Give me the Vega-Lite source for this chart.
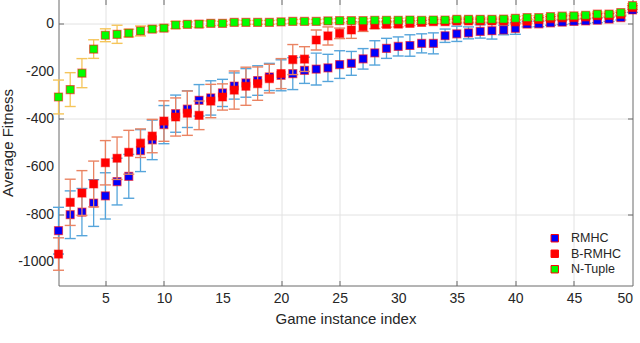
{
"$schema": "https://vega.github.io/schema/vega-lite/v6.json",
"width": 574, "height": 286,
"autosize": "none",
"padding": {"left": 58.5, "top": -0.5, "right": 7, "bottom": 57},
"background": "white",
"config": {"view": {"stroke": null}, "font": "Liberation Sans",
  "axis": {"labelColor": "#262626", "titleColor": "#262626", "domainColor": "#6b6b6b", "tickColor": "#6b6b6b", "labelFontSize": 14, "titleFontSize": 15, "titleFontWeight": "normal", "labelFont": "Liberation Sans", "titleFont": "Liberation Sans", "gridColor": "#e2e2e2"}},
"data": {"values": [
{"x":1,"s":"RMHC","m":-870,"lo":-968,"hi":-772},
{"x":2,"s":"RMHC","m":-803,"lo":-903,"hi":-703},
{"x":3,"s":"RMHC","m":-792,"lo":-891,"hi":-693},
{"x":4,"s":"RMHC","m":-754,"lo":-852,"hi":-656},
{"x":5,"s":"RMHC","m":-724,"lo":-821,"hi":-627},
{"x":6,"s":"RMHC","m":-664,"lo":-762,"hi":-566},
{"x":7,"s":"RMHC","m":-642,"lo":-734,"hi":-550},
{"x":8,"s":"RMHC","m":-534,"lo":-622,"hi":-446},
{"x":9,"s":"RMHC","m":-489,"lo":-572,"hi":-406},
{"x":10,"s":"RMHC","m":-425,"lo":-505,"hi":-345},
{"x":11,"s":"RMHC","m":-379,"lo":-457,"hi":-301},
{"x":12,"s":"RMHC","m":-360,"lo":-437,"hi":-283},
{"x":13,"s":"RMHC","m":-323,"lo":-389,"hi":-257},
{"x":14,"s":"RMHC","m":-313,"lo":-385,"hi":-241},
{"x":15,"s":"RMHC","m":-292,"lo":-349,"hi":-235},
{"x":16,"s":"RMHC","m":-263,"lo":-318,"hi":-208},
{"x":17,"s":"RMHC","m":-250,"lo":-310,"hi":-190},
{"x":18,"s":"RMHC","m":-240,"lo":-302,"hi":-178},
{"x":19,"s":"RMHC","m":-225,"lo":-282,"hi":-168},
{"x":20,"s":"RMHC","m":-218,"lo":-283,"hi":-153},
{"x":21,"s":"RMHC","m":-211,"lo":-278,"hi":-144},
{"x":22,"s":"RMHC","m":-197,"lo":-252,"hi":-142},
{"x":23,"s":"RMHC","m":-192,"lo":-259,"hi":-125},
{"x":24,"s":"RMHC","m":-187,"lo":-244,"hi":-130},
{"x":25,"s":"RMHC","m":-173,"lo":-231,"hi":-115},
{"x":26,"s":"RMHC","m":-168,"lo":-218,"hi":-118},
{"x":27,"s":"RMHC","m":-149,"lo":-192,"hi":-106},
{"x":28,"s":"RMHC","m":-124,"lo":-175,"hi":-73},
{"x":29,"s":"RMHC","m":-105,"lo":-147,"hi":-63},
{"x":30,"s":"RMHC","m":-97,"lo":-137,"hi":-57},
{"x":31,"s":"RMHC","m":-93,"lo":-138,"hi":-48},
{"x":32,"s":"RMHC","m":-84,"lo":-124,"hi":-44},
{"x":33,"s":"RMHC","m":-84,"lo":-128,"hi":-40},
{"x":34,"s":"RMHC","m":-52,"lo":-80,"hi":-24},
{"x":35,"s":"RMHC","m":-44,"lo":-76,"hi":-12},
{"x":36,"s":"RMHC","m":-40,"lo":-65,"hi":-15},
{"x":37,"s":"RMHC","m":-34,"lo":-62,"hi":-6},
{"x":38,"s":"RMHC","m":-31,"lo":-66,"hi":4},
{"x":39,"s":"RMHC","m":-28,"lo":-48,"hi":-8},
{"x":40,"s":"RMHC","m":-21,"lo":-46,"hi":4},
{"x":41,"s":"RMHC","m":-3,"lo":-15,"hi":9},
{"x":42,"s":"RMHC","m":-2,"lo":-14,"hi":10},
{"x":43,"s":"RMHC","m":2,"lo":-8,"hi":12},
{"x":44,"s":"RMHC","m":5,"lo":-5,"hi":15},
{"x":45,"s":"RMHC","m":8,"lo":-2,"hi":18},
{"x":46,"s":"RMHC","m":10,"lo":0,"hi":20},
{"x":47,"s":"RMHC","m":13,"lo":3,"hi":23},
{"x":48,"s":"RMHC","m":18,"lo":8,"hi":28},
{"x":49,"s":"RMHC","m":24,"lo":14,"hi":34},
{"x":50,"s":"RMHC","m":56,"lo":46,"hi":66},
{"x":1,"s":"B-RMHC","m":-968,"lo":-1036,"hi":-900},
{"x":2,"s":"B-RMHC","m":-751,"lo":-848,"hi":-654},
{"x":3,"s":"B-RMHC","m":-712,"lo":-806,"hi":-618},
{"x":4,"s":"B-RMHC","m":-674,"lo":-770,"hi":-578},
{"x":5,"s":"B-RMHC","m":-585,"lo":-678,"hi":-492},
{"x":6,"s":"B-RMHC","m":-566,"lo":-655,"hi":-477},
{"x":7,"s":"B-RMHC","m":-541,"lo":-633,"hi":-449},
{"x":8,"s":"B-RMHC","m":-503,"lo":-563,"hi":-443},
{"x":9,"s":"B-RMHC","m":-473,"lo":-543,"hi":-403},
{"x":10,"s":"B-RMHC","m":-410,"lo":-495,"hi":-325},
{"x":11,"s":"B-RMHC","m":-393,"lo":-473,"hi":-313},
{"x":12,"s":"B-RMHC","m":-377,"lo":-470,"hi":-284},
{"x":13,"s":"B-RMHC","m":-386,"lo":-446,"hi":-326},
{"x":14,"s":"B-RMHC","m":-326,"lo":-396,"hi":-256},
{"x":15,"s":"B-RMHC","m":-309,"lo":-364,"hi":-254},
{"x":16,"s":"B-RMHC","m":-280,"lo":-360,"hi":-200},
{"x":17,"s":"B-RMHC","m":-264,"lo":-344,"hi":-184},
{"x":18,"s":"B-RMHC","m":-253,"lo":-323,"hi":-183},
{"x":19,"s":"B-RMHC","m":-232,"lo":-292,"hi":-172},
{"x":20,"s":"B-RMHC","m":-211,"lo":-274,"hi":-148},
{"x":21,"s":"B-RMHC","m":-152,"lo":-215,"hi":-89},
{"x":22,"s":"B-RMHC","m":-150,"lo":-202,"hi":-98},
{"x":23,"s":"B-RMHC","m":-70,"lo":-112,"hi":-28},
{"x":24,"s":"B-RMHC","m":-53,"lo":-91,"hi":-15},
{"x":25,"s":"B-RMHC","m":-42,"lo":-64,"hi":-20},
{"x":26,"s":"B-RMHC","m":-28,"lo":-63,"hi":7},
{"x":27,"s":"B-RMHC","m":-14,"lo":-34,"hi":6},
{"x":28,"s":"B-RMHC","m":-7,"lo":-22,"hi":8},
{"x":29,"s":"B-RMHC","m":-4,"lo":-16,"hi":8},
{"x":30,"s":"B-RMHC","m":-3,"lo":-15,"hi":9},
{"x":31,"s":"B-RMHC","m":0,"lo":-10,"hi":10},
{"x":32,"s":"B-RMHC","m":4,"lo":-4,"hi":12},
{"x":33,"s":"B-RMHC","m":7,"lo":-1,"hi":15},
{"x":34,"s":"B-RMHC","m":7,"lo":-1,"hi":15},
{"x":35,"s":"B-RMHC","m":10,"lo":2,"hi":18},
{"x":36,"s":"B-RMHC","m":10,"lo":2,"hi":18},
{"x":37,"s":"B-RMHC","m":10,"lo":2,"hi":18},
{"x":38,"s":"B-RMHC","m":10,"lo":2,"hi":18},
{"x":39,"s":"B-RMHC","m":10,"lo":2,"hi":18},
{"x":40,"s":"B-RMHC","m":6,"lo":-2,"hi":14},
{"x":41,"s":"B-RMHC","m":9,"lo":1,"hi":17},
{"x":42,"s":"B-RMHC","m":16,"lo":8,"hi":24},
{"x":43,"s":"B-RMHC","m":20,"lo":12,"hi":28},
{"x":44,"s":"B-RMHC","m":23,"lo":15,"hi":31},
{"x":45,"s":"B-RMHC","m":24,"lo":16,"hi":32},
{"x":46,"s":"B-RMHC","m":27,"lo":19,"hi":35},
{"x":47,"s":"B-RMHC","m":32,"lo":24,"hi":40},
{"x":48,"s":"B-RMHC","m":33,"lo":25,"hi":41},
{"x":49,"s":"B-RMHC","m":38,"lo":30,"hi":46},
{"x":50,"s":"B-RMHC","m":66,"lo":58,"hi":74},
{"x":1,"s":"N-Tuple","m":-309,"lo":-380,"hi":-238},
{"x":2,"s":"N-Tuple","m":-278,"lo":-349,"hi":-207},
{"x":3,"s":"N-Tuple","m":-209,"lo":-270,"hi":-148},
{"x":4,"s":"N-Tuple","m":-108,"lo":-147,"hi":-69},
{"x":5,"s":"N-Tuple","m":-50,"lo":-77,"hi":-23},
{"x":6,"s":"N-Tuple","m":-46,"lo":-84,"hi":-8},
{"x":7,"s":"N-Tuple","m":-41,"lo":-57,"hi":-25},
{"x":8,"s":"N-Tuple","m":-32,"lo":-53,"hi":-11},
{"x":9,"s":"N-Tuple","m":-24,"lo":-36,"hi":-12},
{"x":10,"s":"N-Tuple","m":-20,"lo":-32,"hi":-8},
{"x":11,"s":"N-Tuple","m":-7,"lo":-22,"hi":8},
{"x":12,"s":"N-Tuple","m":-4,"lo":-14,"hi":6},
{"x":13,"s":"N-Tuple","m":-3,"lo":-17,"hi":11},
{"x":14,"s":"N-Tuple","m":0,"lo":-10,"hi":10},
{"x":15,"s":"N-Tuple","m":0,"lo":-8,"hi":8},
{"x":16,"s":"N-Tuple","m":4,"lo":-6,"hi":14},
{"x":17,"s":"N-Tuple","m":4,"lo":-4,"hi":12},
{"x":18,"s":"N-Tuple","m":4,"lo":-4,"hi":12},
{"x":19,"s":"N-Tuple","m":4,"lo":-4,"hi":12},
{"x":20,"s":"N-Tuple","m":6,"lo":-2,"hi":14},
{"x":21,"s":"N-Tuple","m":8,"lo":0,"hi":16},
{"x":22,"s":"N-Tuple","m":8,"lo":-2,"hi":18},
{"x":23,"s":"N-Tuple","m":8,"lo":0,"hi":16},
{"x":24,"s":"N-Tuple","m":10,"lo":2,"hi":18},
{"x":25,"s":"N-Tuple","m":11,"lo":3,"hi":19},
{"x":26,"s":"N-Tuple","m":11,"lo":1,"hi":21},
{"x":27,"s":"N-Tuple","m":11,"lo":3,"hi":19},
{"x":28,"s":"N-Tuple","m":13,"lo":5,"hi":21},
{"x":29,"s":"N-Tuple","m":13,"lo":5,"hi":21},
{"x":30,"s":"N-Tuple","m":13,"lo":5,"hi":21},
{"x":31,"s":"N-Tuple","m":14,"lo":6,"hi":22},
{"x":32,"s":"N-Tuple","m":13,"lo":3,"hi":23},
{"x":33,"s":"N-Tuple","m":14,"lo":6,"hi":22},
{"x":34,"s":"N-Tuple","m":14,"lo":6,"hi":22},
{"x":35,"s":"N-Tuple","m":17,"lo":9,"hi":25},
{"x":36,"s":"N-Tuple","m":17,"lo":9,"hi":25},
{"x":37,"s":"N-Tuple","m":17,"lo":9,"hi":25},
{"x":38,"s":"N-Tuple","m":17,"lo":9,"hi":25},
{"x":39,"s":"N-Tuple","m":18,"lo":10,"hi":26},
{"x":40,"s":"N-Tuple","m":21,"lo":13,"hi":29},
{"x":41,"s":"N-Tuple","m":24,"lo":16,"hi":32},
{"x":42,"s":"N-Tuple","m":24,"lo":16,"hi":32},
{"x":43,"s":"N-Tuple","m":28,"lo":20,"hi":36},
{"x":44,"s":"N-Tuple","m":30,"lo":22,"hi":38},
{"x":45,"s":"N-Tuple","m":31,"lo":23,"hi":39},
{"x":46,"s":"N-Tuple","m":34,"lo":26,"hi":42},
{"x":47,"s":"N-Tuple","m":39,"lo":31,"hi":47},
{"x":48,"s":"N-Tuple","m":39,"lo":31,"hi":47},
{"x":49,"s":"N-Tuple","m":45,"lo":37,"hi":53},
{"x":50,"s":"N-Tuple","m":74,"lo":66,"hi":82}
]},
"resolve": {"axis": {"x": "independent", "y": "independent"}},
"layer": [
 {
  "transform": [{"filter": "datum.s == 'RMHC'"}],
  "encoding": {"x": {"field": "x", "type": "quantitative", "scale": {"domain": [1, 50], "nice": false, "zero": false},
     "axis": {"orient": "bottom", "values": [5,10,15,20,25,30,35,40,45,50], "title": "Game instance index", "grid": true,
       "gridOpacity": {"condition": {"test": "datum.value == 15 || datum.value == 30 || datum.value == 50", "value": 0}, "value": 1},
       "ticks": true, "tickSize": -5,
       "tickOpacity": {"condition": {"test": "datum.value == 15 || datum.value == 30 || datum.value == 50", "value": 0}, "value": 1},
       "labelPadding": 11, "titlePadding": 6}}},
  "layer": [
   {"mark": {"type": "rule", "color": "#56A5DB", "strokeWidth": 1.3},
    "encoding": {"y": {"field": "lo", "type": "quantitative", "scale": {"domain": [-1100, 100], "nice": false, "zero": false},
       "axis": {"orient": "left", "values": [-1000,-800,-600,-400,-200,0], "labelExpr": "'' + datum.value", "title": "Average Fitness", "grid": true,
         "gridOpacity": {"condition": {"test": "datum.value == -200 || datum.value == -600 || datum.value == -1000", "value": 0}, "value": 1},
         "ticks": true, "tickSize": -5,
         "tickOpacity": {"condition": {"test": "datum.value == -200 || datum.value == -600 || datum.value == -1000", "value": 0}, "value": 1},
         "labelPadding": 10, "titlePadding": 2}},
     "y2": {"field": "hi"}}},
   {"mark": {"type": "tick", "orient": "horizontal", "size": 11, "thickness": 1.4, "color": "#56A5DB", "opacity": 1},
    "encoding": {"y": {"field": "lo", "type": "quantitative", "scale": {"domain": [-1100, 100], "nice": false, "zero": false}}}},
   {"mark": {"type": "tick", "orient": "horizontal", "size": 11, "thickness": 1.4, "color": "#56A5DB", "opacity": 1},
    "encoding": {"y": {"field": "hi", "type": "quantitative", "scale": {"domain": [-1100, 100], "nice": false, "zero": false}}}},
   {"mark": {"type": "square", "size": 64, "stroke": "#ff0000", "strokeWidth": 1.2, "strokeOpacity": 0.55, "opacity": 1},
    "encoding": {"y": {"field": "m", "type": "quantitative", "scale": {"domain": [-1100, 100], "nice": false, "zero": false}},
      "fill": {"field": "s", "type": "nominal", "scale": {"domain": ["RMHC", "B-RMHC", "N-Tuple"], "range": ["#0000ff", "#ff0000", "#00ff00"]},
        "legend": {"orient": "none", "legendX": 490, "legendY": 232.5, "title": null, "labelFontSize": 12.5, "labelFont": "Liberation Sans", "labelColor": "#262626", "symbolType": "square", "symbolSize": 55, "symbolStrokeColor": "#ff0000", "symbolStrokeWidth": 1, "rowPadding": 2.5, "labelOffset": 10}}}}
  ]
 },
 {
  "transform": [{"filter": "datum.s == 'B-RMHC'"}],
  "encoding": {"x": {"field": "x", "type": "quantitative", "scale": {"domain": [1, 50], "nice": false, "zero": false},
     "axis": {"orient": "top", "values": [5,10,20,25,35,40,45], "title": null, "labels": false, "grid": false, "domain": false, "ticks": true, "tickSize": -5}}},
  "layer": [
   {"mark": {"type": "rule", "color": "#EA8362", "strokeWidth": 1.3},
    "encoding": {"y": {"field": "lo", "type": "quantitative", "scale": {"domain": [-1100, 100], "nice": false, "zero": false},
       "axis": {"orient": "right", "values": [0, -400, -800], "title": null, "labels": false, "grid": false, "ticks": true, "tickSize": -5}},
     "y2": {"field": "hi"}}},
   {"mark": {"type": "tick", "orient": "horizontal", "size": 11, "thickness": 1.4, "color": "#EA8362", "opacity": 1},
    "encoding": {"y": {"field": "lo", "type": "quantitative", "scale": {"domain": [-1100, 100], "nice": false, "zero": false}}}},
   {"mark": {"type": "tick", "orient": "horizontal", "size": 11, "thickness": 1.4, "color": "#EA8362", "opacity": 1},
    "encoding": {"y": {"field": "hi", "type": "quantitative", "scale": {"domain": [-1100, 100], "nice": false, "zero": false}}}},
   {"mark": {"type": "square", "size": 64, "stroke": "#ff0000", "strokeWidth": 1.2, "strokeOpacity": 0.55, "opacity": 1},
    "encoding": {"y": {"field": "m", "type": "quantitative", "scale": {"domain": [-1100, 100], "nice": false, "zero": false}},
      "fill": {"field": "s", "type": "nominal", "scale": {"domain": ["RMHC", "B-RMHC", "N-Tuple"], "range": ["#0000ff", "#ff0000", "#00ff00"]}}}}
  ]
 },
 {
  "transform": [{"filter": "datum.s == 'N-Tuple'"}],
  "encoding": {"x": {"field": "x", "type": "quantitative", "scale": {"domain": [1, 50], "nice": false, "zero": false}, "axis": null}},
  "layer": [
   {"mark": {"type": "rule", "color": "#F5C55A", "strokeWidth": 1.3},
    "encoding": {"y": {"field": "lo", "type": "quantitative", "scale": {"domain": [-1100, 100], "nice": false, "zero": false}, "axis": null},
     "y2": {"field": "hi"}}},
   {"mark": {"type": "tick", "orient": "horizontal", "size": 11, "thickness": 1.4, "color": "#F5C55A", "opacity": 1},
    "encoding": {"y": {"field": "lo", "type": "quantitative", "scale": {"domain": [-1100, 100], "nice": false, "zero": false}, "axis": null}}},
   {"mark": {"type": "tick", "orient": "horizontal", "size": 11, "thickness": 1.4, "color": "#F5C55A", "opacity": 1},
    "encoding": {"y": {"field": "hi", "type": "quantitative", "scale": {"domain": [-1100, 100], "nice": false, "zero": false}, "axis": null}}},
   {"mark": {"type": "square", "size": 64, "stroke": "#ff0000", "strokeWidth": 1.2, "strokeOpacity": 0.55, "opacity": 1},
    "encoding": {"y": {"field": "m", "type": "quantitative", "scale": {"domain": [-1100, 100], "nice": false, "zero": false}, "axis": null},
      "fill": {"field": "s", "type": "nominal", "scale": {"domain": ["RMHC", "B-RMHC", "N-Tuple"], "range": ["#0000ff", "#ff0000", "#00ff00"]}}}}
  ]
 }
]
}
